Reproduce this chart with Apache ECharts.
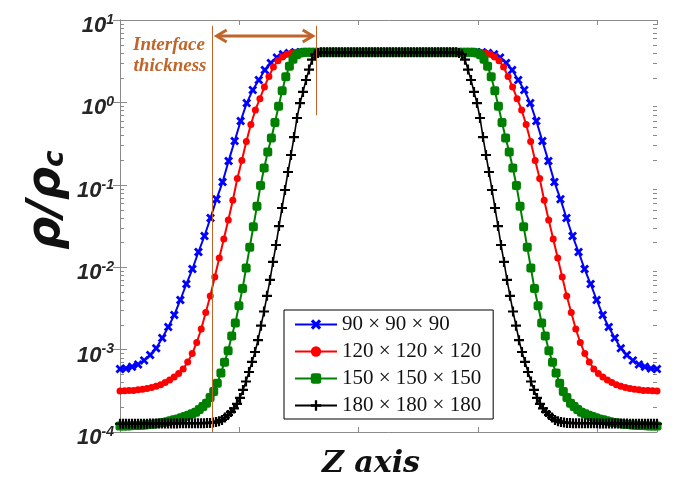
<!DOCTYPE html>
<html>
<head>
<meta charset="utf-8">
<script src="https://cdn.jsdelivr.net/npm/echarts@6/dist/echarts.min.js"></script>
<style>
html, body { margin: 0; padding: 0; background: #fff; }
#main { width: 679px; height: 480px; }
</style>
</head>
<body>
<div id="main"></div>
<script>
// grid sizes shown in the legend
const seriesNames = ['90 × 90 × 90', '120 × 120 × 120', '150 × 150 × 150', '180 × 180 × 180'];

// density profiles rho/rho_c along Z, one value per grid node
const blue = [
  0.00058, 0.00059, 0.00062, 0.00066, 0.00074, 0.00086, 0.00104, 0.00138, 0.00188, 0.00263,
  0.0040, 0.00625, 0.0095, 0.0153, 0.0239, 0.0396, 0.067, 0.108, 0.195, 0.34,
  0.594, 0.98, 1.41, 1.87, 2.47, 3.01, 3.5, 3.85, 3.98,
  4.05, 4.05, 4.05, 4.05, 4.05, 4.05, 4.05, 4.05,
  4.05, 4.05, 4.05, 4.05, 4.05, 4.05, 4.05, 4.05,
  4.05, 4.05, 4.05, 4.05, 4.05, 4.05, 4.05, 4.05,
  4.05, 4.05, 4.05, 4.05, 4.05, 4.05, 4.05, 4.05,
  3.98, 3.85, 3.5, 3.01, 2.47, 1.87, 1.41, 0.98, 0.594,
  0.34, 0.195, 0.108, 0.067, 0.0396, 0.0239, 0.0153, 0.0095, 0.00625, 0.0040,
  0.00263, 0.00188, 0.00138, 0.00104, 0.00086, 0.00074, 0.00066, 0.00062, 0.00059, 0.00058
];

const red = [
  0.000315, 0.000316, 0.000319, 0.00032, 0.000326, 0.00033, 0.000338, 0.000347, 0.00036, 0.000375,
  0.0004, 0.000428, 0.000465, 0.000513, 0.000582, 0.000708, 0.000894, 0.00122, 0.00178, 0.00282,
  0.00447, 0.0076, 0.0129, 0.022, 0.0374, 0.065, 0.119, 0.197, 0.336, 0.54,
  0.81, 1.11, 1.54, 2.06, 2.69, 3.2, 3.55, 3.85, 3.98, 4.03,
  4.05, 4.05, 4.05, 4.05, 4.05, 4.05, 4.05, 4.05,
  4.05, 4.05, 4.05, 4.05, 4.05, 4.05, 4.05, 4.05,
  4.05, 4.05, 4.05, 4.05, 4.05, 4.05, 4.05, 4.05,
  4.05, 4.05, 4.05, 4.05, 4.05, 4.05, 4.05, 4.05,
  4.05, 4.05, 4.05, 4.05, 4.05, 4.05, 4.05, 4.05,
  4.03, 3.98, 3.85, 3.55, 3.2, 2.69, 2.06, 1.54, 1.11, 0.81,
  0.54, 0.336, 0.197, 0.119, 0.065, 0.0374, 0.022, 0.0129, 0.0076, 0.00447,
  0.00282, 0.00178, 0.00122, 0.000894, 0.000708, 0.000582, 0.000513, 0.000465, 0.000428, 0.0004,
  0.000375, 0.00036, 0.000347, 0.000338, 0.00033, 0.000326, 0.00032, 0.000319, 0.000316, 0.000315
];

const green = [
  0.000118, 0.000118, 0.000118, 0.000119, 0.00012, 0.00012, 0.000121, 0.000122, 0.000123, 0.000124,
  0.000126, 0.000129, 0.00013, 0.000133, 0.000137, 0.000141, 0.000144, 0.000149, 0.000154, 0.00016,
  0.000167, 0.000174, 0.000188, 0.000204, 0.000224, 0.000262, 0.00031, 0.00039, 0.00052, 0.0007,
  0.00097, 0.00146, 0.0021, 0.0034, 0.0055, 0.0098, 0.0175, 0.031, 0.055, 0.098,
  0.16, 0.25, 0.37, 0.57, 0.9, 1.38, 2.05, 2.75, 3.35, 3.8,
  3.98,
  4.05, 4.05, 4.05, 4.05, 4.05, 4.05, 4.05, 4.05,
  4.05, 4.05, 4.05, 4.05, 4.05, 4.05, 4.05, 4.05,
  4.05, 4.05, 4.05, 4.05, 4.05, 4.05, 4.05, 4.05,
  4.05, 4.05, 4.05, 4.05, 4.05, 4.05, 4.05, 4.05,
  4.05, 4.05, 4.05, 4.05, 4.05, 4.05, 4.05, 4.05,
  4.05, 4.05, 4.05, 4.05, 4.05, 4.05, 4.05, 4.05,
  3.98,
  3.8, 3.35, 2.75, 2.05, 1.38, 0.9, 0.57, 0.37, 0.25, 0.16,
  0.098, 0.055, 0.031, 0.0175, 0.0098, 0.0055, 0.0034, 0.0021, 0.00146, 0.00097,
  0.0007, 0.00052, 0.00039, 0.00031, 0.000262, 0.000224, 0.000204, 0.000188, 0.000174, 0.000167,
  0.00016, 0.000154, 0.000149, 0.000144, 0.000141, 0.000137, 0.000133, 0.00013, 0.000129, 0.000126,
  0.000124, 0.000123, 0.000122, 0.000121, 0.00012, 0.00012, 0.000119, 0.000118, 0.000118, 0.000118
];

const black = [
  0.000126, 0.000126, 0.000126, 0.000126, 0.000126, 0.000126, 0.000126, 0.000126, 0.000126, 0.000126,
  0.000127, 0.000127, 0.000127, 0.000127, 0.000127, 0.000127, 0.000127, 0.000127, 0.000127, 0.000127,
  0.000128, 0.000128, 0.000128, 0.000128, 0.000128, 0.000128, 0.000128, 0.000128, 0.000128,
  0.000129, 0.000129, 0.00013, 0.000132, 0.000135, 0.00014, 0.00015, 0.000161, 0.000175, 0.000193,
  0.000219, 0.000259, 0.000324, 0.00041, 0.000535, 0.000708, 0.000935, 0.0013, 0.00195, 0.0029,
  0.0045, 0.007, 0.0116, 0.0186, 0.0316, 0.0523, 0.0865, 0.143, 0.23, 0.38,
  0.647, 0.98, 1.34, 1.87, 2.5, 3.3, 3.85, 3.98,
  4.05, 4.05, 4.05, 4.05, 4.05, 4.05, 4.05, 4.05,
  4.05, 4.05, 4.05, 4.05, 4.05, 4.05, 4.05, 4.05,
  4.05, 4.05, 4.05, 4.05, 4.05, 4.05, 4.05, 4.05,
  4.05, 4.05, 4.05, 4.05, 4.05, 4.05, 4.05, 4.05,
  4.05, 4.05, 4.05, 4.05, 4.05, 4.05, 4.05, 4.05,
  4.05, 4.05, 4.05, 4.05, 4.05, 4.05,
  3.98, 3.85, 3.3, 2.5, 1.87, 1.34, 0.98, 0.647,
  0.38, 0.23, 0.143, 0.0865, 0.0523, 0.0316, 0.0186, 0.0116, 0.007, 0.0045,
  0.0029, 0.00195, 0.0013, 0.000935, 0.000708, 0.000535, 0.00041, 0.000324, 0.000259, 0.000219,
  0.000193, 0.000175, 0.000161, 0.00015, 0.00014, 0.000135, 0.000132, 0.00013, 0.000129, 0.000129,
  0.000128, 0.000128, 0.000128, 0.000128, 0.000128, 0.000128, 0.000128, 0.000128, 0.000128,
  0.000127, 0.000127, 0.000127, 0.000127, 0.000127, 0.000127, 0.000127, 0.000127, 0.000127, 0.000127,
  0.000126, 0.000126, 0.000126, 0.000126, 0.000126, 0.000126, 0.000126, 0.000126, 0.000126, 0.000126
];

// axes: Z runs 0..90, ticks every 20 (no labels); log y 1e-4..1e1
const zMin = 0, zMax = 90, zStep = 20;
const yMin = 1e-4, yMax = 10;
const minorDecades = [1e-4, 1e-3, 1e-2, 1e-1, 1];
const minorMults = [2, 3, 4, 5, 6, 7, 8, 9];

// annotation "Interface thickness" (z positions, y values)
const interfaceZ = [15.4, 32.85];
const arrowZ = [16.2, 32.3];
const arrowY = 6.4;
const guideTop = 8.5, rightGuideBottom = 0.7;

const axisGray = '#8a8a8a';
const orange = '#c0652a';
const crossPath = 'path://M0,2.2 L2.2,0 L5,2.8 L7.8,0 L10,2.2 L7.2,5 L10,7.8 L7.8,10 L5,7.2 L2.2,10 L0,7.8 L2.8,5 Z';
const plusPath = 'path://M3.9,0 L6.1,0 L6.1,3.9 L10,3.9 L10,6.1 L6.1,6.1 L6.1,10 L3.9,10 L3.9,6.1 L0,6.1 L0,3.9 L3.9,3.9 Z';

const chart = echarts.init(document.getElementById('main'));

function catAxis(arr) {
  return { type: 'category', data: arr.map((_, i) => i), boundaryGap: false, show: false, gridIndex: 0 };
}
function zAxis(pos) {
  return {
    type: 'value', min: zMin, max: zMax, interval: zStep, position: pos,
    axisLine: { show: true, onZero: false, lineStyle: { color: axisGray, width: 1 } },
    axisTick: { show: true, inside: true, length: 5, lineStyle: { color: axisGray } },
    axisLabel: { show: false }, splitLine: { show: false }
  };
}
const labelFont = { fontFamily: 'Liberation Sans', fontWeight: 'bold', fontStyle: 'italic', color: '#262626' };

function line(name, data, axisIdx, color, symbol, size, width) {
  return {
    name: name, type: 'line', data: data, xAxisIndex: axisIdx, yAxisIndex: 0,
    symbol: symbol, symbolSize: size, showAllSymbol: true,
    lineStyle: { color: color, width: width },
    itemStyle: { color: color },
    emphasis: { disabled: true }
  };
}

const option = {
  animation: false,
  grid: { left: 120, right: 22, top: 20, bottom: 48 },
  xAxis: [zAxis('bottom'), zAxis('top'), catAxis(blue), catAxis(red), catAxis(green), catAxis(black)],
  yAxis: [
    {
      type: 'log', logBase: 10, min: yMin, max: yMax, position: 'left',
      axisLine: { show: true, lineStyle: { color: axisGray, width: 1 } },
      axisTick: { show: true, inside: true, length: 7, lineStyle: { color: axisGray } },
      splitLine: { show: false },
      axisLabel: {
        margin: 6, padding: [10, 0, 0, 0],
        formatter: v => '{n|10}{s|' + Math.round(Math.log10(v)) + '}',
        rich: {
          n: Object.assign({ fontSize: 22, lineHeight: 24, verticalAlign: 'bottom' }, labelFont),
          s: Object.assign({ fontSize: 14, lineHeight: 14, verticalAlign: 'top' }, labelFont)
        }
      }
    },
    {
      type: 'log', logBase: 10, min: yMin, max: yMax, position: 'right',
      axisLine: { show: true, lineStyle: { color: axisGray, width: 1 } },
      axisTick: { show: true, inside: true, length: 7, lineStyle: { color: axisGray } },
      splitLine: { show: false }, axisLabel: { show: false }
    }
  ],
  legend: {
    orient: 'vertical', left: 284, top: 310,
    padding: [4, 12, 3, 10], itemGap: 6, itemWidth: 42, itemHeight: 13,
    backgroundColor: '#fff', borderColor: '#000', borderWidth: 1,
    selectedMode: false,
    textStyle: { fontFamily: 'Liberation Serif', fontSize: 21, color: '#111' },
    data: seriesNames
  },
  series: [
    line(seriesNames[0], blue, 2, '#0000ff', crossPath, 9, 2),
    line(seriesNames[1], red, 3, '#ff0000', 'circle', 7, 2),
    line(seriesNames[2], green, 4, '#008000', 'roundRect', 9, 2),
    line(seriesNames[3], black, 5, '#000000', plusPath, 10, 1.6)
  ]
};
chart.setOption(option);

// decorations placed through the axes' own scales
const px = v => chart.convertToPixel({ xAxisIndex: 0 }, v);
const py = v => chart.convertToPixel({ yAxisIndex: 0 }, v);
const gLeft = px(zMin), gRight = px(zMax);
const graphics = [];

minorDecades.forEach(d => {
  minorMults.forEach(m => {
    const y = Math.round(py(d * m)) + 0.5;
    graphics.push({ type: 'line', silent: true, shape: { x1: gLeft, y1: y, x2: gLeft + 4, y2: y }, style: { stroke: axisGray, lineWidth: 1 } });
    graphics.push({ type: 'line', silent: true, shape: { x1: gRight - 4, y1: y, x2: gRight, y2: y }, style: { stroke: axisGray, lineWidth: 1 } });
  });
});

const xl = Math.round(px(interfaceZ[0])) + 0.5, xr = Math.round(px(interfaceZ[1])) + 0.5;
graphics.push({ type: 'line', z: 100, silent: true, shape: { x1: xl, y1: py(guideTop), x2: xl, y2: py(yMin) }, style: { stroke: orange, lineWidth: 1 } });
graphics.push({ type: 'line', z: 100, silent: true, shape: { x1: xr, y1: py(guideTop), x2: xr, y2: py(rightGuideBottom) }, style: { stroke: orange, lineWidth: 1 } });

const ay = py(arrowY), a0 = px(arrowZ[0]), a1 = px(arrowZ[1]);
graphics.push({ type: 'line', z: 100, silent: true, shape: { x1: a0 + 2, y1: ay, x2: a1 - 2, y2: ay }, style: { stroke: orange, lineWidth: 3 } });
graphics.push({ type: 'polyline', z: 100, silent: true, shape: { points: [[a0 + 10, ay - 6], [a0, ay], [a0 + 10, ay + 6]] }, style: { stroke: orange, lineWidth: 3, fill: null, lineJoin: 'miter' } });
graphics.push({ type: 'polyline', z: 100, silent: true, shape: { points: [[a1 - 10, ay - 6], [a1, ay], [a1 - 10, ay + 6]] }, style: { stroke: orange, lineWidth: 3, fill: null, lineJoin: 'miter' } });

graphics.push({ type: 'text', z: 100, silent: true, x: 169, y: 45.5, style: { text: 'Interface', font: 'bold italic 19px "Liberation Serif"', fill: orange, align: 'center', verticalAlign: 'middle' } });
graphics.push({ type: 'text', z: 100, silent: true, x: 170, y: 66, style: { text: 'thickness', font: 'bold italic 19px "Liberation Serif"', fill: orange, align: 'center', verticalAlign: 'middle' } });

// axis titles
graphics.push({
  type: 'text', silent: true, x: 45, y: 200, rotation: Math.PI / 2,
  style: {
    text: '{a|ρ/ρ}{b|c}', align: 'center', verticalAlign: 'middle',
    rich: {
      a: { fontFamily: 'DejaVu Sans', fontWeight: 'bold', fontStyle: 'italic', fontSize: 46, lineHeight: 50, fill: '#111', verticalAlign: 'bottom' },
      b: { fontFamily: 'DejaVu Sans', fontWeight: 'bold', fontStyle: 'italic', fontSize: 28, lineHeight: 28, fill: '#111', verticalAlign: 'bottom' }
    }
  }
});
graphics.push({ type: 'text', silent: true, x: 371, y: 464, style: { text: 'Z axis', font: 'bold italic 30px "DejaVu Serif"', fill: '#111', align: 'center', verticalAlign: 'middle' } });

chart.setOption({ graphic: graphics });
</script>
</body>
</html>
